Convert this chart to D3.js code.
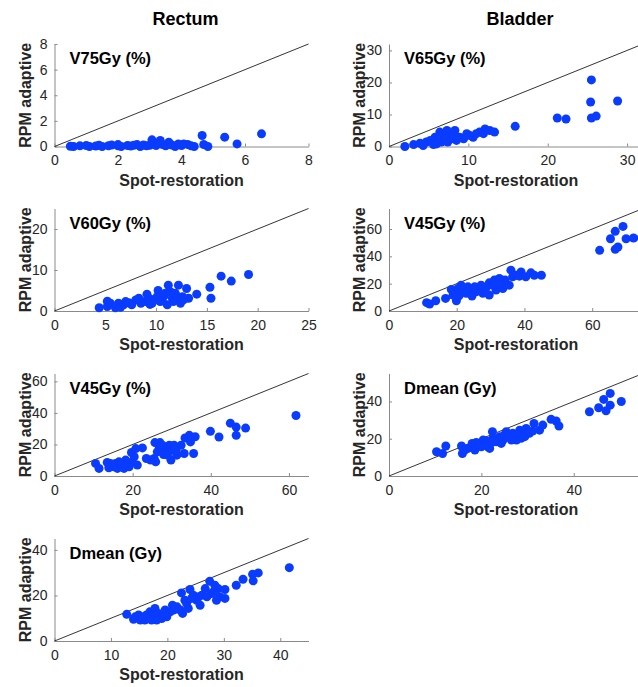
<!DOCTYPE html>
<html>
<head>
<meta charset="utf-8">
<script src="https://cdn.jsdelivr.net/npm/d3@7"></script>
<style>
  body { margin: 0; background: #fff; }
  svg text { font-family: "Liberation Sans", Arial, sans-serif; }
</style>
</head>
<body>
<div id="chart"></div>
<script>
// column titles
const columnTitles = ["Rectum", "Bladder"];

// Rectum V75Gy (%)
const rectumV75X = [0.5,0.6,0.8,1.0,1.1,1.3,1.4,1.5,1.7,1.8,2.0,2.1,2.3,2.4,2.5,2.6,2.7,2.8,2.9,3.0,3.2,3.4,3.5,3.7,3.8,3.9,4.0,4.2,4.3,4.4,
  2.0,3.07,3.33,3.6,4.07,4.65,4.7,4.83,5.36,5.75,6.52];
const rectumV75Y = [0.02,0,0.05,0.08,0,0.04,0.1,0,0.06,0.12,0.05,0,0.08,0.03,0.1,0.15,0,0.12,0.05,0.1,0.08,0.15,0.05,0.12,0,0.2,0.08,0.15,0.05,0,
  0.15,0.52,0.47,0.34,0.2,0.86,0.16,0,0.73,0.2,0.99];

// Bladder V65Gy (%)
const bladderV65X = [2.0,3.1,3.9,4.7,5.6,6.2,6.4,6.8,7.3,7.7,8.3,8.9,9.8,10.6,11.4,12.1,12.7,13.3,15.9,21.2,22.3,25.5,25.4,25.5,26.1,28.8,
  4.3,5.2,5.8,6.6,7.0,7.4,8.1,8.5,9.4,10.2,11.0,11.9,6.0,7.9];
const bladderV65Y = [0,0.6,1.0,1.4,0.6,1.9,4.5,4.0,5.0,2.9,5.0,2.9,4.0,2.9,4.5,5.5,5.0,4.5,6.3,8.9,8.6,20.8,13.9,8.9,9.5,14.2,
  0.3,1.9,2.9,1.4,2.4,1.4,3.4,1.9,2.4,3.4,4.0,4.0,0.8,2.4];

// Rectum V60Gy (%)
const rectumV60X = [4.4,5.2,5.2,6.0,6.3,6.8,7.3,7.6,8.0,8.5,8.9,9.3,9.4,9.8,10.1,10.2,10.4,10.8,11.1,11.2,11.6,11.9,12.2,12.4,12.6,13.0,13.2,14.0,15.3,15.4,16.4,17.4,19.1,
  5.5,7.0,8.3,9.1,9.6,10.6,10.9,11.4,11.7,12.1,12.7,6.5];
const rectumV60Y = [0.8,2.4,1.1,0.8,1.9,1.5,2.0,1.5,2.7,1.9,2.3,3.1,1.6,2.8,3.5,5.0,2.3,3.7,1.5,6.3,3.1,4.3,6.3,1.9,3.5,5.5,3.1,4.1,5.8,3.1,8.5,7.3,8.9,
  1.9,2.3,3.1,4.1,1.9,2.5,4.3,4.7,2.3,3.1,2.7,0.9];

// Bladder V45Gy (%)
const bladderV45X = [11.1,12.0,13.8,16.7,18.4,19.4,19.9,20.4,20.8,21.8,22.8,23.8,24.5,25.7,26.7,27.7,28.7,29.6,29.6,30.6,31.6,32.6,33.6,34.3,35.5,36.0,36.5,37.5,39.0,40.4,41.9,42.9,45.0,
  62.2,65.4,66.8,66.8,67.6,69.1,70.0,72.2,74.5,
  18.9,21.3,23.3,25.3,27.2,28.2,31.1,32.1,34.5,38.5,20.4];
const bladderV45Y = [6.1,5.1,7.5,9.2,15.8,14.1,7.5,16.5,11.7,14.1,12.9,16.5,10.9,14.1,15.8,12.9,17.2,20.6,11.7,18.9,15.3,23.8,16.5,22.6,18.9,29.9,25.0,26.2,28.6,25.0,27.9,26.2,26.2,
  44.4,52.9,58.3,45.1,46.8,61.9,52.9,53.4,53.5,
  11.7,18.9,17.7,17.7,18.9,14.1,22.6,20.1,18.9,25.5,10.5];

// Rectum V45Gy (%)
const rectumV45X = [10.5,11.4,13.5,13.9,15.2,16.1,16.5,17.3,18.2,19.1,19.7,19.9,20.8,21.2,22.5,23.5,25.5,25.7,25.9,26.8,27.0,27.9,28.5,29.4,29.8,30.2,30.6,31.3,33.2,33.4,34.5,34.8,35.6,36.0,39.9,42.1,45.0,46.5,46.5,48.9,61.8,
  14.3,15.6,16.9,17.8,20.4,24.6,26.3,27.6,28.9,31.1,32.4];
const rectumV45Y = [8.0,4.8,8.6,5.2,5.9,4.8,9.0,5.9,10.1,5.9,14.9,9.0,17.4,6.9,17.8,11.1,11.1,21.2,9.0,18.4,21.2,13.6,17.4,19.5,10.1,16.4,19.5,13.2,14.3,24.1,25.8,21.6,14.3,24.9,28.3,24.7,33.5,31.0,25.8,30.4,38.4,
  8.0,8.0,8.0,4.8,12.2,10.1,15.3,19.5,13.2,16.4,19.5];

// Bladder Dmean (Gy)
const bladderDmeanX = [10.3,11.6,12.3,15.7,15.9,17.1,18.0,18.6,19.5,20.4,20.7,21.4,21.8,22.4,22.5,23.2,24.0,24.7,25.4,26.1,26.8,27.6,28.3,29.0,29.4,29.7,30.4,31.4,32.6,33.3,35.1,36.2,36.8,43.4,45.4,46.5,47.0,47.9,47.9,50.3,
  16.4,18.9,20.0,21.1,22.0,23.6,24.3,25.0,26.5,27.9,28.6,30.0,31.1];
const bladderDmeanY = [13.0,12.1,16.1,16.1,12.1,14.8,17.5,13.9,16.6,19.3,16.6,15.7,14.8,23.8,20.2,18.4,21.1,19.3,23.8,21.1,22.9,19.3,24.6,22.0,21.1,25.5,22.9,28.2,24.6,27.3,30.4,29.5,26.8,34.5,36.6,41.1,35.0,38.0,44.3,40.0,
  13.9,18.0,15.7,18.8,17.5,20.2,17.5,22.0,19.3,22.0,20.2,23.8,24.1];

// Rectum Dmean (Gy)
const rectumDmeanX = [12.8,14.0,14.9,15.2,16.0,16.3,16.9,17.5,17.8,18.4,19.0,19.6,19.9,20.5,20.9,21.7,22.3,22.5,22.7,23.1,23.7,24.0,24.6,25.2,25.8,26.1,26.7,27.5,27.8,28.4,28.7,29.0,30.2,30.2,32.2,33.4,35.2,35.1,36.1,41.6,
  14.3,15.7,17.2,18.1,19.3,21.1,23.4,24.3,25.5,27.0,28.2,29.3];
const rectumDmeanY = [11.7,9.5,11.4,9.2,9.2,11.4,12.8,10.6,14.3,12.1,9.9,13.6,10.6,12.8,15.7,15.0,13.6,21.1,12.1,17.9,14.3,22.6,20.1,17.9,15.7,20.1,23.0,26.2,20.8,24.5,17.9,23.0,22.6,18.7,24.5,27.1,26.4,29.3,29.9,32.2,
  10.6,10.6,9.2,9.2,12.1,13.6,16.5,18.7,19.4,19.4,21.6,19.4];

// panel labels, axis limits and ticks
const panelLabels = ["V75Gy (%)", "V65Gy (%)", "V60Gy (%)", "V45Gy (%)", "V45Gy (%)", "Dmean (Gy)", "Dmean (Gy)"];
const axisMax = [8, 32, 25, 75, 65, 55, 45];
const xTicks = [[0,2,4,6,8], [0,10,20,30], [0,5,10,15,20,25], [0,20,40,60], [0,20,40,60], [0,20,40], [0,10,20,30,40]];
const yTicks = [[0,2,4,6,8], [0,10,20,30], [0,10,20], [0,20,40,60], [0,20,40,60], [0,20,40], [0,20,40]];

const panelX = [rectumV75X, bladderV65X, rectumV60X, bladderV45X, rectumV45X, bladderDmeanX, rectumDmeanX];
const panelY = [rectumV75Y, bladderV65Y, rectumV60Y, bladderV45Y, rectumV45Y, bladderDmeanY, rectumDmeanY];

const width = 638, height = 687;
const plotW = 254, plotH = 102.5;
const colLeft = [54.5, 389];
const rowTop = [44, 208.5, 373.5, 538.5];
const dotColor = "#0a3cff";

const svg = d3.select("#chart").append("svg")
    .attr("width", width)
    .attr("height", height);

columnTitles.forEach((t, c) => {
    svg.append("text")
        .attr("x", colLeft[c] + plotW / 2 + 4)
        .attr("y", 25)
        .attr("text-anchor", "middle")
        .style("font-size", "18px")
        .style("font-weight", "bold")
        .style("fill", "#000")
        .text(t);
});

panelLabels.forEach((label, i) => {
    const col = i % 2, row = Math.floor(i / 2);
    const x0 = colLeft[col], y0 = rowTop[row];
    const g = svg.append("g").attr("transform", `translate(${x0},${y0})`);

    const x = d3.scaleLinear().domain([0, axisMax[i]]).range([0, plotW]);
    const y = d3.scaleLinear().domain([0, axisMax[i]]).range([plotH, 0]);

    // axes, ticks point inward like the original
    const xAxis = g.append("g")
        .attr("transform", `translate(0,${plotH})`)
        .call(d3.axisBottom(x).tickValues(xTicks[i]).tickSizeInner(-3).tickSizeOuter(0).tickPadding(9));
    const yAxis = g.append("g")
        .call(d3.axisLeft(y).tickValues(yTicks[i]).tickSizeInner(-3).tickSizeOuter(0).tickPadding(7));

    [xAxis, yAxis].forEach(a => {
        a.select(".domain").attr("stroke", "#8a8a8a");
        a.selectAll(".tick line").attr("stroke", "#8a8a8a");
        a.selectAll(".tick text")
            .style("font-size", "14px")
            .style("fill", "#262626");
    });

    // identity line
    g.append("line")
        .attr("x1", x(0)).attr("y1", y(0))
        .attr("x2", x(axisMax[i])).attr("y2", y(axisMax[i]))
        .attr("stroke", "#000")
        .attr("stroke-width", 0.8);

    g.append("g").selectAll("circle")
        .data(d3.zip(panelX[i], panelY[i]))
        .enter().append("circle")
        .attr("cx", d => x(d[0]))
        .attr("cy", d => y(d[1]))
        .attr("r", 4.5)
        .style("fill", dotColor);

    g.append("text")
        .attr("x", 15)
        .attr("y", 20)
        .style("font-size", "16.5px")
        .style("font-weight", "bold")
        .style("fill", "#000")
        .text(label);

    g.append("text")
        .attr("x", plotW / 2)
        .attr("y", plotH + 39)
        .attr("text-anchor", "middle")
        .style("font-size", "16px")
        .style("font-weight", "bold")
        .style("fill", "#262626")
        .text("Spot-restoration");

    g.append("text")
        .attr("transform", `translate(-24,${plotH / 2}) rotate(-90)`)
        .attr("text-anchor", "middle")
        .style("font-size", "16px")
        .style("font-weight", "bold")
        .style("fill", "#262626")
        .text("RPM adaptive");
});
</script>
</body>
</html>
